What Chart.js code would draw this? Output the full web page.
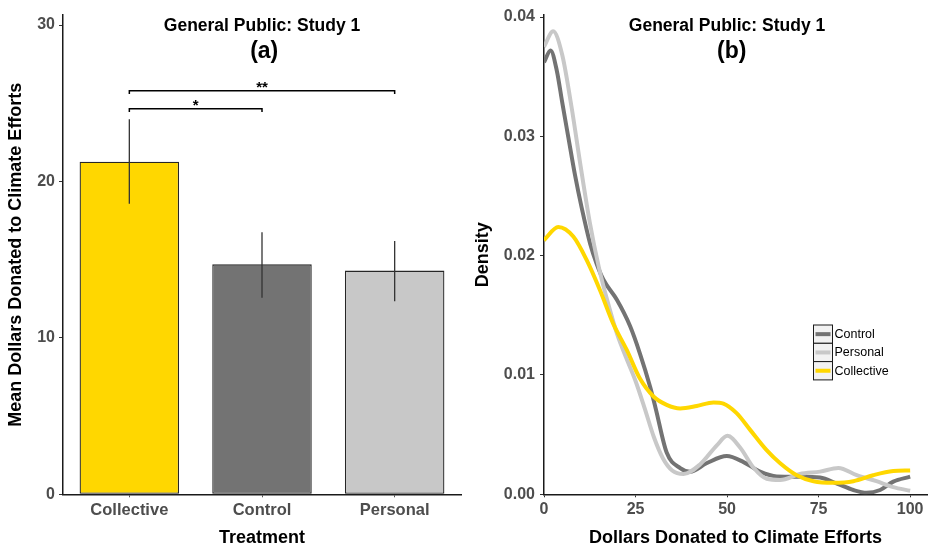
<!DOCTYPE html>
<html>
<head>
<meta charset="utf-8">
<script src="https://cdn.jsdelivr.net/npm/chart.js@4.4.1/dist/chart.umd.min.js"></script>
<style>
  html, body { margin: 0; padding: 0; background: #ffffff; }
  #wrap { position: relative; width: 928px; height: 549px; }
  #barCanvas { position: absolute; left: 0; top: 0; }
  #densCanvas { position: absolute; left: 470px; top: 0; }
</style>
</head>
<body>
<div id="wrap">
  <canvas id="barCanvas" width="470" height="549"></canvas>
  <canvas id="densCanvas" width="458" height="549"></canvas>
</div>
<script>
// ---- Panel (a): mean donation per treatment ----
const treatments = ['Collective', 'Control', 'Personal'];
const meanDonation = [21.26, 14.70, 14.30];
const errLower = [18.57, 12.56, 12.34];
const errUpper = [23.97, 16.75, 16.19];
const barColors = ['#FFD700', '#737373', '#C8C8C8'];
const yTicksA = [0, 10, 20, 30];

// significance brackets (category index pairs)
const bracketFrom = [0, 0];
const bracketTo = [1, 2];
const bracketHeight = [24.65, 25.8];
const bracketLabel = ['*', '**'];

// ---- Panel (b): density of dollars donated ----
const seriesNames = ['Control', 'Personal', 'Collective'];
const seriesColors = ['#737373', '#C8C8C8', '#FFD700'];
const xTicksB = [0, 25, 50, 75, 100];
const yTicksB = [0, 0.01, 0.02, 0.03, 0.04];

const controlX = [0, 1.8, 3.5, 5, 6.6, 8.5, 10.3, 12.6, 14.4, 16.2, 19.9, 23.5, 26.2, 29.0, 30.5, 33.5, 37.2, 39.9, 44.4, 49.9, 54.5, 59.0, 63.6, 69.9, 75.4, 80, 84.5, 88.1, 91.8, 95.4, 100];
const controlY = [0.0362, 0.0372, 0.0355, 0.0328, 0.0300, 0.0267, 0.0240, 0.0210, 0.0193, 0.0180, 0.0163, 0.0141, 0.0118, 0.0090, 0.0072, 0.0035, 0.0022, 0.0019, 0.0026, 0.0032, 0.0027, 0.0019, 0.0015, 0.00148, 0.0014, 0.0009, 0.00036, 0.00013, 0.00036, 0.00106, 0.00148];

const personalX = [0, 2.5, 5, 7.5, 10, 12.5, 15, 17.5, 20, 22.5, 25, 27.5, 30, 32.5, 35, 38.1, 42.6, 47.2, 50.1, 53.6, 57.3, 60.8, 64.5, 69.9, 75.4, 80.4, 85.4, 90.8, 95.4, 100];
const personalY = [0.0375, 0.0388, 0.0368, 0.0325, 0.0275, 0.0228, 0.0190, 0.0160, 0.0134, 0.0114, 0.0095, 0.0072, 0.0048, 0.0030, 0.0020, 0.0017, 0.0025, 0.0041, 0.0049, 0.0039, 0.0022, 0.0013, 0.0012, 0.0017, 0.0019, 0.0022, 0.0016, 0.0011, 0.0006, 0.0003];

const collectiveX = [0, 3.9, 8.0, 11.7, 15.3, 18.9, 22.6, 26.2, 29.9, 33.5, 37.2, 41.7, 46.3, 49.0, 52.6, 56.3, 60.8, 64.5, 69.0, 73.6, 79.0, 84.5, 89.9, 95.4, 100];
const collectiveY = [0.0213, 0.0224, 0.0216, 0.0196, 0.0171, 0.0143, 0.0121, 0.0097, 0.0082, 0.0075, 0.0072, 0.0074, 0.0077, 0.0076, 0.0068, 0.0054, 0.0037, 0.0026, 0.0016, 0.0011, 0.00097, 0.0011, 0.0016, 0.00195, 0.0020];

const FONT = "'Liberation Sans', Arial, Helvetica, sans-serif";
Chart.defaults.font.family = FONT;
Chart.defaults.animation = false;

const toPoints = (xs, ys) => xs.map((x, i) => ({ x: x, y: ys[i] }));

// Two-line panel heading drawn inside the plot
function headingPlugin(label, xMain, xSub) {
  return {
    id: 'heading',
    afterDraw(chart) {
      const ctx = chart.ctx;
      ctx.save();
      ctx.fillStyle = '#000';
      ctx.textAlign = 'center';
      ctx.textBaseline = 'middle';
      ctx.font = 'bold 17.5px ' + FONT;
      ctx.fillText('General Public: Study 1', xMain, 26.5);
      ctx.font = 'bold 23px ' + FONT;
      ctx.fillText(label, xSub, 52);
      ctx.restore();
    }
  };
}

// Error bars and significance brackets for the bar panel
const barExtras = {
  id: 'barExtras',
  afterDatasetsDraw(chart) {
    const ctx = chart.ctx;
    const xs = chart.scales.x, ys = chart.scales.y;
    const meta = chart.getDatasetMeta(0);
    ctx.save();
    ctx.strokeStyle = '#333';
    ctx.lineWidth = 1.3;
    meta.data.forEach((bar, i) => {
      ctx.beginPath();
      ctx.moveTo(bar.x, ys.getPixelForValue(errLower[i]));
      ctx.lineTo(bar.x, ys.getPixelForValue(errUpper[i]));
      ctx.stroke();
    });
    ctx.strokeStyle = '#000';
    ctx.lineWidth = 1.5;
    ctx.fillStyle = '#000';
    ctx.textAlign = 'center';
    ctx.textBaseline = 'alphabetic';
    ctx.font = 'bold 15px ' + FONT;
    bracketHeight.forEach((h, j) => {
      const x1 = xs.getPixelForValue(bracketFrom[j]);
      const x2 = xs.getPixelForValue(bracketTo[j]);
      const y = ys.getPixelForValue(h);
      const yTip = ys.getPixelForValue(h - 0.21);
      ctx.beginPath();
      ctx.moveTo(x1, yTip);
      ctx.lineTo(x1, y);
      ctx.lineTo(x2, y);
      ctx.lineTo(x2, yTip);
      ctx.stroke();
      ctx.fillText(bracketLabel[j], (x1 + x2) / 2, y + 1);
    });
    ctx.restore();
  }
};

// Legend with boxed keys, drawn inside the density panel
const keyLegend = {
  id: 'keyLegend',
  afterDraw(chart) {
    const ctx = chart.ctx;
    const left = 343.5, top = 325, w = 19, h = 18.3;
    ctx.save();
    seriesNames.forEach((name, i) => {
      const y0 = top + i * h;
      ctx.fillStyle = '#f2f2f2';
      ctx.fillRect(left, y0, w, h);
      ctx.strokeStyle = '#1a1a1a';
      ctx.lineWidth = 1;
      ctx.strokeRect(left, y0, w, h);
      ctx.strokeStyle = seriesColors[i];
      ctx.lineWidth = 4;
      ctx.beginPath();
      ctx.moveTo(left + 2, y0 + h / 2);
      ctx.lineTo(left + w - 2, y0 + h / 2);
      ctx.stroke();
      ctx.fillStyle = '#000';
      ctx.font = '12.5px ' + FONT;
      ctx.textAlign = 'left';
      ctx.textBaseline = 'middle';
      ctx.fillText(name, left + w + 2, y0 + h / 2 + 0.5);
    });
    ctx.restore();
  }
};

const tickFont = { family: FONT, size: 16, weight: 'bold' };
const titleFont = { family: FONT, size: 18, weight: 'bold' };

new Chart(document.getElementById('barCanvas'), {
  type: 'bar',
  data: {
    labels: treatments,
    datasets: [{
      data: meanDonation,
      backgroundColor: barColors,
      borderColor: '#262626',
      borderWidth: 1.3,
      borderSkipped: false,
      barPercentage: 0.75,
      categoryPercentage: 1
    }]
  },
  options: {
    responsive: false,
    devicePixelRatio: 1,
    layout: { padding: { top: 15, right: 9, left: 0, bottom: 0 } },
    plugins: { legend: { display: false }, tooltip: { enabled: false } },
    scales: {
      x: {
        offset: true,
        grid: { drawOnChartArea: false, offset: false, tickLength: 3, color: '#555' },
        border: { display: true, color: '#1a1a1a', width: 1.5 },
        ticks: { color: '#4d4d4d', font: { family: FONT, size: 16.5, weight: 'bold' }, padding: 3 },
        title: { display: true, text: 'Treatment', color: '#000', font: titleFont, padding: { top: 0, bottom: 0 } },
        afterFit(s) { s.height = 54.7; }
      },
      y: {
        min: 0,
        max: 30.64,
        afterBuildTicks(s) { s.ticks = yTicksA.map(v => ({ value: v })); },
        grid: { drawOnChartArea: false, tickLength: 4, color: '#333' },
        border: { display: true, color: '#1a1a1a', width: 1.5 },
        ticks: { color: '#4d4d4d', font: tickFont, padding: 4 },
        title: { display: true, text: 'Mean Dollars Donated to Climate Efforts', color: '#000', font: titleFont, padding: { top: 5, bottom: 0 } },
        afterFit(s) { s.width = 63; }
      }
    }
  },
  plugins: [barExtras, headingPlugin('(a)', 262, 264.2)]
});

const densityX = [controlX, personalX, collectiveX];
const densityY = [controlY, personalY, collectiveY];
const drawOrder = [2, 1, 0];

new Chart(document.getElementById('densCanvas'), {
  type: 'line',
  data: {
    datasets: seriesNames.map((name, i) => ({
      label: name,
      data: toPoints(densityX[i], densityY[i]),
      borderColor: seriesColors[i],
      borderWidth: 4,
      pointRadius: 0,
      fill: false,
      cubicInterpolationMode: 'monotone',
      order: drawOrder[i]
    }))
  },
  options: {
    responsive: false,
    devicePixelRatio: 1,
    layout: { padding: { top: 15, right: 1, left: 0, bottom: 0 } },
    plugins: { legend: { display: false }, tooltip: { enabled: false } },
    scales: {
      x: {
        type: 'linear',
        min: 0,
        max: 104.6,
        afterBuildTicks(s) { s.ticks = xTicksB.map(v => ({ value: v })); },
        grid: { drawOnChartArea: false, tickLength: 3, color: '#333' },
        border: { display: true, color: '#1a1a1a', width: 1.5 },
        ticks: { color: '#4d4d4d', font: tickFont, padding: 3 },
        title: { display: true, text: 'Dollars Donated to Climate Efforts', color: '#000', font: titleFont, padding: { top: 0, bottom: 0 } },
        afterFit(s) { s.height = 54.7; }
      },
      y: {
        min: 0,
        max: 0.04017,
        afterBuildTicks(s) { s.ticks = yTicksB.map(v => ({ value: v })); },
        grid: { drawOnChartArea: false, tickLength: 4, color: '#333' },
        border: { display: true, color: '#1a1a1a', width: 1.5 },
        ticks: { color: '#4d4d4d', font: tickFont, padding: 5, callback: v => Number(v).toFixed(2) },
        title: { display: true, text: 'Density', color: '#000', font: titleFont, padding: { top: 2, bottom: 0 } },
        afterFit(s) { s.width = 74; }
      }
    }
  },
  plugins: [keyLegend, headingPlugin('(b)', 257, 261.7)]
});
</script>
</body>
</html>
